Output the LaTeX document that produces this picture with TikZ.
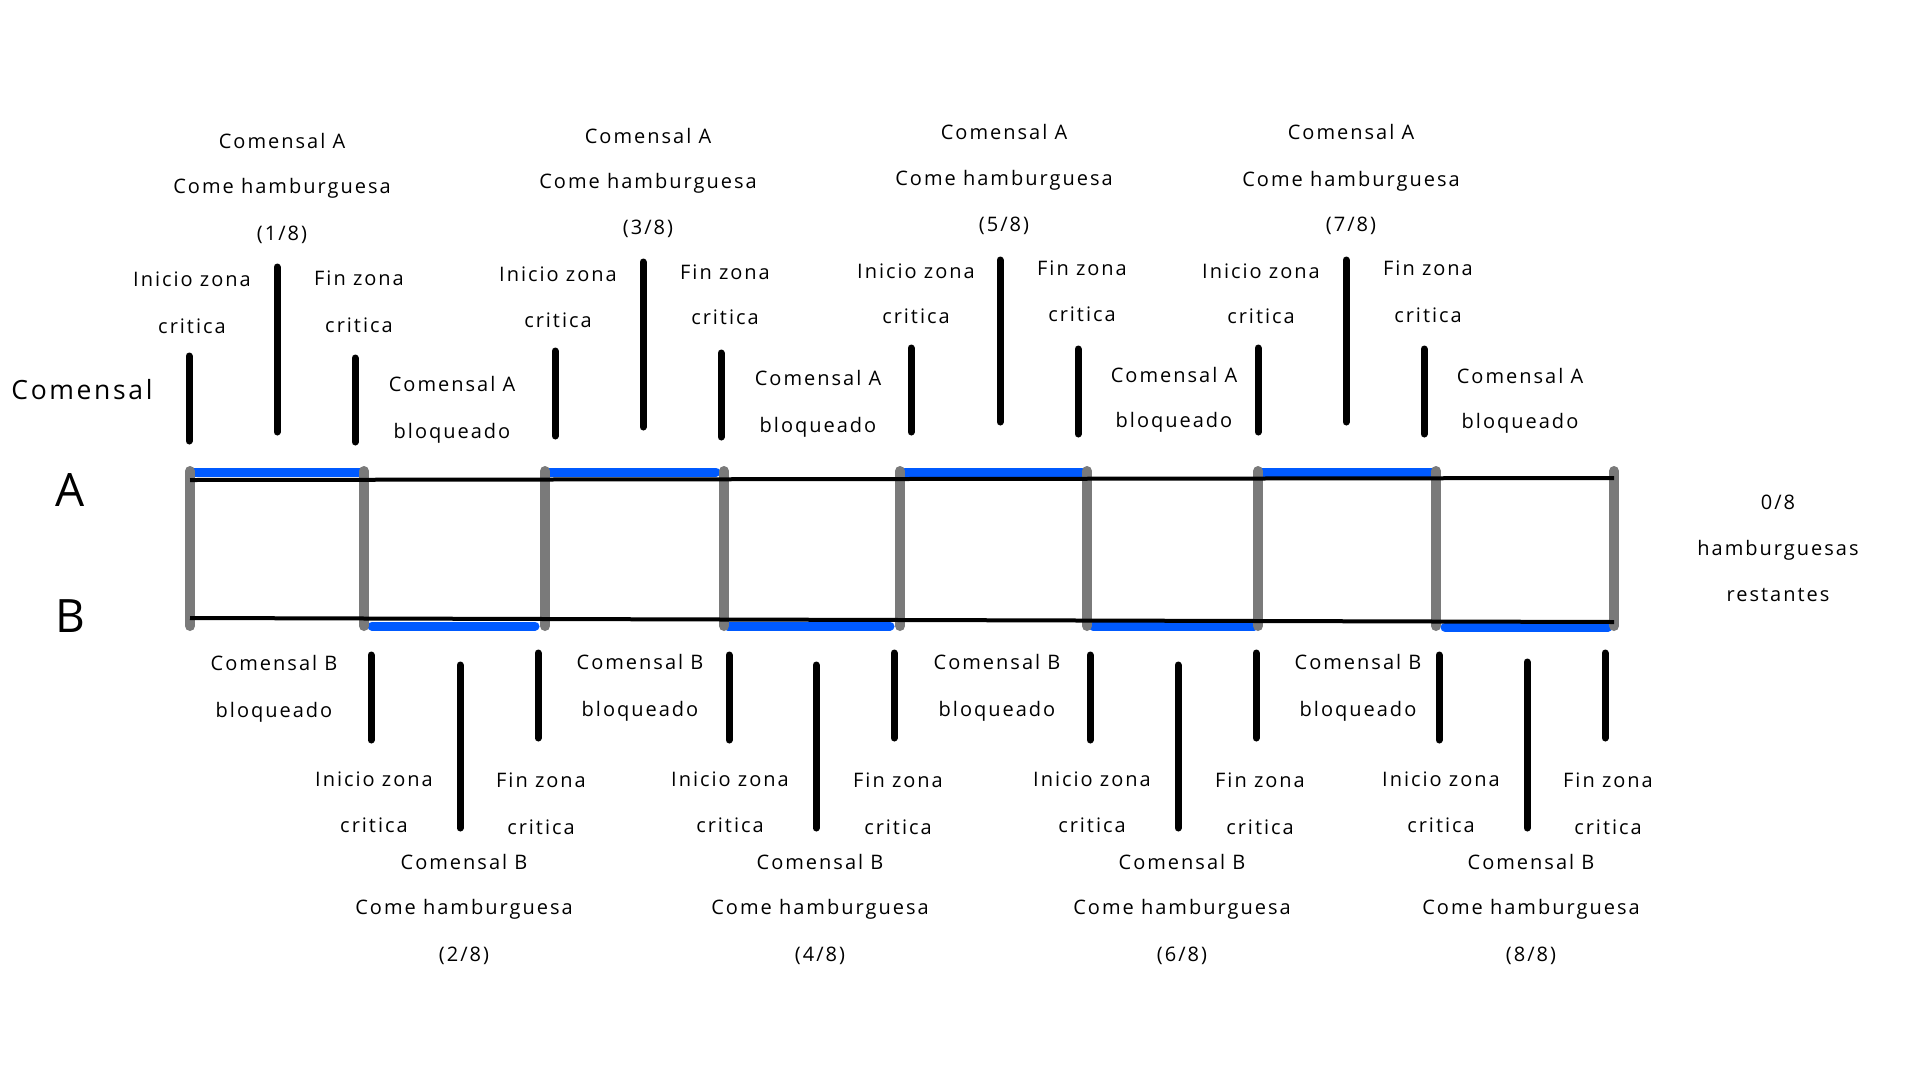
\documentclass[tikz,border=0pt]{standalone}
\usepackage{fontspec}
\setmainfont{Open Sans}[LetterSpace=10]
\definecolor{barblue}{RGB}{0,90,255}
\definecolor{bargray}{RGB}{122,122,122}
\tikzset{
 lbl/.style={inner sep=0pt, text height=14pt, text depth=0pt, font=\fontsize{20}{24}\selectfont},
 big/.style={inner sep=0pt, text height=33pt, text depth=0pt, font=\fontsize{46}{50}\selectfont},
 mid/.style={inner sep=0pt, text height=19pt, text depth=0pt, font=\fontsize{26.5}{30}\selectfont},
 tick/.style={line width=7pt, line cap=round, black},
 rail/.style={line width=4pt, black},
 slot/.style={line width=10pt, line cap=round, bargray},
 eat/.style={line width=9pt, line cap=round, barblue},
}
\newcommand\mytx[4]{\node[lbl] (#1) at (#2,#3) {#4};}
\begin{document}
\begin{tikzpicture}[x=1pt,y=-1pt]
\useasboundingbox (0,0) rectangle (1920,1080);
\fill[white] (0,0) rectangle (1920,1080);

% --- eating segments (blue)
\draw[eat] (191,472) -- (360,472);
\draw[eat] (548,472) -- (716,472);
\draw[eat] (905,472) -- (1082,472);
\draw[eat] (1262,472) -- (1432,472);
\draw[eat] (372,626) -- (535,626);
\draw[eat] (728,626) -- (890,626);
\draw[eat] (1093,626) -- (1254,626);
\draw[eat] (1445,627) -- (1608,627);

% --- gray slot separators
\foreach \i/\x in {1/190,2/364,3/545,4/724,5/900,6/1087,7/1258,8/1436,9/1614}{
  \coordinate (st\i) at (\x,471);
  \coordinate (sb\i) at (\x,626);
  \draw[slot] (st\i) -- (sb\i);
}

% --- rails
\coordinate (ra0) at (190,480); \coordinate (ra1) at (1614,478);
\coordinate (rb0) at (190,618); \coordinate (rb1) at (1614,622);
\draw[rail] (ra0) -- (ra1);
\draw[rail] (rb0) -- (rb1);

% --- side labels
\node[mid] (comensal) at (82,390) {Comensal};
\node[big] (labA) at (70,490) {A};
\node[big] (labB) at (70,616) {B};
\mytx{r1}{1778}{502}{0/8}
\mytx{r2}{1778}{548}{hamburguesas}
\mytx{r3}{1778}{594}{restantes}

% ===== top groups (Comensal A)
% group 1
\mytx{a1c}{282}{141}{Comensal A}
\mytx{a1h}{282}{186}{Come hamburguesa}
\mytx{a1f}{282}{233}{(1/8)}
\mytx{a1i1}{192}{279}{Inicio zona}
\mytx{a1i2}{192}{326}{critica}
\mytx{a1e1}{359}{278}{Fin zona}
\mytx{a1e2}{359}{325}{critica}
\mytx{a1b1}{452}{384}{Comensal A}
\mytx{a1b2}{452}{431}{bloqueado}
\draw[tick] (189,356) -- (189,441);
\draw[tick] (277,267) -- (277,432);
\draw[tick] (355,358) -- (355,442);
% group 2
\mytx{a2c}{648}{136}{Comensal A}
\mytx{a2h}{648}{181}{Come hamburguesa}
\mytx{a2f}{648}{227}{(3/8)}
\mytx{a2i1}{558}{274}{Inicio zona}
\mytx{a2i2}{558}{320}{critica}
\mytx{a2e1}{725}{272}{Fin zona}
\mytx{a2e2}{725}{317}{critica}
\mytx{a2b1}{818}{378}{Comensal A}
\mytx{a2b2}{818}{425}{bloqueado}
\draw[tick] (555,351) -- (555,436);
\draw[tick] (643,262) -- (643,427);
\draw[tick] (721,353) -- (721,437);
% group 3
\mytx{a3c}{1004}{132}{Comensal A}
\mytx{a3h}{1004}{178}{Come hamburguesa}
\mytx{a3f}{1004}{224}{(5/8)}
\mytx{a3i1}{916}{271}{Inicio zona}
\mytx{a3i2}{916}{316}{critica}
\mytx{a3e1}{1082}{268}{Fin zona}
\mytx{a3e2}{1082}{314}{critica}
\mytx{a3b1}{1174}{375}{Comensal A}
\mytx{a3b2}{1174}{420}{bloqueado}
\draw[tick] (911,348) -- (911,432);
\draw[tick] (1000,260) -- (1000,422);
\draw[tick] (1078,349) -- (1078,434);
% group 4
\mytx{a4c}{1351}{132}{Comensal A}
\mytx{a4h}{1351}{179}{Come hamburguesa}
\mytx{a4f}{1351}{224}{(7/8)}
\mytx{a4i1}{1261}{271}{Inicio zona}
\mytx{a4i2}{1261}{316}{critica}
\mytx{a4e1}{1428}{268}{Fin zona}
\mytx{a4e2}{1428}{315}{critica}
\mytx{a4b1}{1520}{376}{Comensal A}
\mytx{a4b2}{1520}{421}{bloqueado}
\draw[tick] (1258,348) -- (1258,432);
\draw[tick] (1346,260) -- (1346,422);
\draw[tick] (1424,349) -- (1424,434);

% ===== bottom groups (Comensal B)
% group 1
\mytx{b1b1}{274}{663}{Comensal B}
\mytx{b1b2}{274}{710}{bloqueado}
\mytx{b1i1}{374}{779}{Inicio zona}
\mytx{b1i2}{374}{825}{critica}
\mytx{b1e1}{541}{780}{Fin zona}
\mytx{b1e2}{541}{827}{critica}
\mytx{b1c}{464}{862}{Comensal B}
\mytx{b1h}{464}{907}{Come hamburguesa}
\mytx{b1f}{464}{954}{(2/8)}
\draw[tick] (371,655) -- (371,740);
\draw[tick] (460,665) -- (460,828);
\draw[tick] (538,653) -- (538,738);
% group 2
\mytx{b2b1}{640}{662}{Comensal B}
\mytx{b2b2}{640}{709}{bloqueado}
\mytx{b2i1}{730}{779}{Inicio zona}
\mytx{b2i2}{730}{825}{critica}
\mytx{b2e1}{898}{780}{Fin zona}
\mytx{b2e2}{898}{827}{critica}
\mytx{b2c}{820}{862}{Comensal B}
\mytx{b2h}{820}{907}{Come hamburguesa}
\mytx{b2f}{820}{954}{(4/8)}
\draw[tick] (729,655) -- (729,740);
\draw[tick] (816,665) -- (816,828);
\draw[tick] (894,653) -- (894,738);
% group 3
\mytx{b3b1}{997}{662}{Comensal B}
\mytx{b3b2}{997}{709}{bloqueado}
\mytx{b3i1}{1092}{779}{Inicio zona}
\mytx{b3i2}{1092}{825}{critica}
\mytx{b3e1}{1260}{780}{Fin zona}
\mytx{b3e2}{1260}{827}{critica}
\mytx{b3c}{1182}{862}{Comensal B}
\mytx{b3h}{1182}{907}{Come hamburguesa}
\mytx{b3f}{1182}{954}{(6/8)}
\draw[tick] (1090,655) -- (1090,740);
\draw[tick] (1178,665) -- (1178,828);
\draw[tick] (1256,653) -- (1256,738);
% group 4
\mytx{b4b1}{1358}{662}{Comensal B}
\mytx{b4b2}{1358}{709}{bloqueado}
\mytx{b4i1}{1441}{779}{Inicio zona}
\mytx{b4i2}{1441}{825}{critica}
\mytx{b4e1}{1608}{780}{Fin zona}
\mytx{b4e2}{1608}{827}{critica}
\mytx{b4c}{1531}{862}{Comensal B}
\mytx{b4h}{1531}{907}{Come hamburguesa}
\mytx{b4f}{1531}{954}{(8/8)}
\draw[tick] (1439,655) -- (1439,740);
\draw[tick] (1527,662) -- (1527,828);
\draw[tick] (1605,653) -- (1605,738);
\end{tikzpicture}
\end{document}
